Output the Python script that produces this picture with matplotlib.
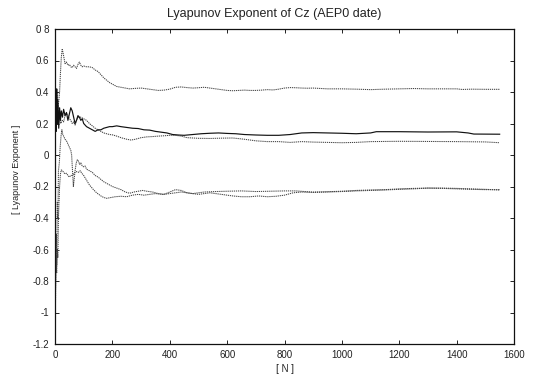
import matplotlib
matplotlib.use("Agg")
import matplotlib.pyplot as plt

plt.rcParams['font.family'] = ['Liberation Sans', 'DejaVu Sans']

title = "Lyapunov Exponent of Cz (AEP0 date)"
xlabel = "[ N ]"
ylabel = "[ Lyapunov Exponent ]"
xticks = [0, 200, 400, 600, 800, 1000, 1200, 1400, 1600]
yticks = [-1.2, -1, -0.8, -0.6, -0.4, -0.2, 0, 0.2, 0.4, 0.6, 0.8]
ytick_labels = ["-1.2", "-1", "-0.8", "-0.6", "-0.4", "-0.2", "0", "0.2", "0.4", "0.6", "0 8"]

# top series
top_n = [0, 2, 4, 6, 8, 10, 13, 16, 19, 22, 25, 28, 31, 35, 40, 45, 50, 55, 60, 65, 70, 75, 80,
         85, 90, 95, 100, 110, 120, 130, 140, 150, 160, 170, 180, 190, 200, 215, 230, 245, 260,
         280, 300, 320, 340, 360, 380, 400, 420, 440, 460, 480, 500, 520, 540, 560, 580, 600, 620,
         640, 660, 680, 700, 720, 740, 760, 780, 800, 820, 840, 860, 880, 900, 950, 1000, 1050,
         1100, 1150, 1200, 1250, 1300, 1350, 1400, 1420, 1450, 1500, 1550]
top_v = [0.30, 0.42, 0.36, 0.40, 0.32, 0.30, 0.34, 0.40, 0.52, 0.62, 0.67, 0.65, 0.62, 0.58, 0.59,
         0.57, 0.575, 0.56, 0.555, 0.57, 0.56, 0.55, 0.575, 0.59, 0.57, 0.56, 0.565, 0.56, 0.56,
         0.555, 0.54, 0.53, 0.51, 0.49, 0.475, 0.46, 0.45, 0.435, 0.43, 0.425, 0.42, 0.423, 0.425,
         0.42, 0.415, 0.41, 0.412, 0.418, 0.43, 0.432, 0.428, 0.425, 0.427, 0.43, 0.425, 0.42,
         0.415, 0.41, 0.408, 0.41, 0.412, 0.41, 0.41, 0.412, 0.415, 0.413, 0.418, 0.425, 0.428,
         0.427, 0.425, 0.424, 0.425, 0.42, 0.42, 0.418, 0.415, 0.418, 0.42, 0.422, 0.42, 0.42,
         0.42, 0.416, 0.418, 0.417, 0.417]

# solid middle series
mid_n = [0, 2, 4, 6, 8, 10, 13, 16, 19, 22, 26, 30, 35, 40, 45, 50, 55, 60, 65, 70, 75, 80, 85,
         90, 95, 100, 110, 120, 130, 140, 150, 160, 170, 180, 190, 200, 215, 230, 250, 270, 290,
         310, 330, 350, 370, 390, 410, 430, 450, 480, 510, 540, 570, 600, 630, 660, 700, 740, 780,
         820, 860, 900, 950, 1000, 1050, 1100, 1120, 1200, 1300, 1400, 1440, 1460, 1550]
mid_v = [0.05, 0.38, 0.15, 0.42, 0.20, 0.35, 0.17, 0.30, 0.22, 0.28, 0.24, 0.29, 0.25, 0.27, 0.22,
         0.26, 0.30, 0.28, 0.24, 0.20, 0.22, 0.25, 0.24, 0.22, 0.23, 0.20, 0.18, 0.17, 0.16, 0.15,
         0.16, 0.16, 0.17, 0.175, 0.18, 0.18, 0.185, 0.18, 0.175, 0.17, 0.168, 0.16, 0.158, 0.15,
         0.145, 0.14, 0.13, 0.127, 0.125, 0.13, 0.135, 0.138, 0.14, 0.137, 0.135, 0.13, 0.127,
         0.125, 0.125, 0.13, 0.14, 0.142, 0.14, 0.138, 0.135, 0.14, 0.148, 0.148, 0.146, 0.147,
         0.14, 0.133, 0.132]

# dotted middle series
dot_n = [0, 2, 4, 6, 8, 10, 13, 16, 20, 25, 30, 35, 40, 45, 50, 55, 60, 65, 70, 75, 80, 90, 100,
         110, 120, 130, 140, 150, 160, 170, 180, 190, 200, 215, 230, 250, 265, 280, 300, 320, 340,
         360, 380, 400, 420, 440, 460, 480, 500, 540, 580, 620, 660, 700, 740, 780, 820, 860, 900,
         950, 1000, 1050, 1100, 1200, 1300, 1400, 1500, 1550]
dot_v = [0.10, 0.30, 0.20, 0.38, 0.25, 0.32, 0.20, 0.26, 0.20, 0.22, 0.21, 0.25, 0.265, 0.25,
         0.23, 0.22, 0.20, 0.21, 0.19, 0.22, 0.24, 0.24, 0.23, 0.22, 0.20, 0.185, 0.17, 0.16, 0.15,
         0.14, 0.135, 0.13, 0.128, 0.12, 0.11, 0.10, 0.095, 0.10, 0.11, 0.115, 0.117, 0.12, 0.122,
         0.125, 0.125, 0.12, 0.11, 0.108, 0.106, 0.105, 0.107, 0.108, 0.10, 0.09, 0.085, 0.085,
         0.08, 0.085, 0.082, 0.08, 0.078, 0.08, 0.085, 0.087, 0.086, 0.085, 0.083, 0.078]

# lower series A
lowa_n = [0, 2, 4, 6, 8, 10, 12, 15, 18, 21, 24, 27, 30, 35, 40, 45, 50, 55, 58, 61, 64, 67, 70,
          74, 78, 82, 86, 90, 95, 100, 105, 110, 120, 130, 140, 150, 160, 170, 180, 190, 200, 215,
          230, 245, 260, 275, 290, 305, 320, 340, 360, 380, 400, 420, 440, 460, 480, 500, 520, 560,
          600, 650, 700, 750, 800, 840, 870, 900, 950, 1000, 1050, 1100, 1150, 1200, 1250, 1300,
          1350, 1400, 1450, 1500, 1550]
lowa_v = [-1.12, -0.90, -0.50, -0.70, -0.30, -0.40, -0.10, -0.05, 0.05, 0.12, 0.16, 0.13, 0.12,
          0.10, 0.09, 0.07, 0.05, 0.03, 0.00, -0.10, -0.20, -0.15, -0.10, -0.05, -0.03, -0.04,
          -0.06, -0.05, -0.07, -0.075, -0.07, -0.09, -0.10, -0.11, -0.13, -0.14, -0.155, -0.17,
          -0.18, -0.19, -0.20, -0.21, -0.22, -0.235, -0.243, -0.235, -0.23, -0.225, -0.23, -0.235,
          -0.245, -0.25, -0.235, -0.22, -0.225, -0.24, -0.245, -0.24, -0.235, -0.232, -0.23,
          -0.228, -0.232, -0.23, -0.228, -0.228, -0.232, -0.235, -0.233, -0.23, -0.225, -0.222,
          -0.22, -0.215, -0.212, -0.21, -0.212, -0.215, -0.218, -0.22, -0.22]

# lower series B
lowb_n = [0, 2, 4, 6, 8, 10, 12, 14, 16, 19, 22, 26, 30, 35, 40, 45, 50, 55, 60, 65, 70, 76, 82,
          88, 93, 100, 110, 120, 134, 145, 160, 170, 180, 195, 210, 230, 250, 270, 290, 310, 330,
          350, 377, 400, 420, 440, 460, 480, 500, 520, 540, 560, 580, 600, 620, 650, 680, 710, 740,
          770, 800, 830, 860, 900, 950, 1000, 1050, 1100, 1150, 1200, 1250, 1300, 1350, 1400, 1450,
          1500, 1550]
lowb_v = [-0.90, -0.85, -0.70, -0.75, -0.60, -0.65, -0.40, -0.30, -0.20, -0.12, -0.095, -0.10,
          -0.11, -0.12, -0.116, -0.13, -0.14, -0.13, -0.13, -0.12, -0.11, -0.105, -0.11, -0.10,
          -0.115, -0.13, -0.16, -0.19, -0.22, -0.24, -0.26, -0.27, -0.275, -0.27, -0.265, -0.262,
          -0.265, -0.255, -0.25, -0.255, -0.25, -0.245, -0.25, -0.245, -0.24, -0.235, -0.24,
          -0.245, -0.25, -0.245, -0.24, -0.245, -0.25, -0.255, -0.26, -0.265, -0.265, -0.26,
          -0.265, -0.262, -0.255, -0.24, -0.235, -0.238, -0.235, -0.232, -0.228, -0.225, -0.222,
          -0.218, -0.215, -0.21, -0.21, -0.212, -0.215, -0.218, -0.222]

fig = plt.figure(figsize=(5.37, 3.76), dpi=100)
ax = fig.add_axes([55/537, 1-344/376, (514-55)/537, (344-29)/376])

dotted = (0, (1.2, 0.8))
for n, v in [(top_n, top_v), (dot_n, dot_v), (lowa_n, lowa_v), (lowb_n, lowb_v)]:
    ax.plot(n, v, color='#444444', lw=0.75, ls=dotted)
ax.plot(mid_n, mid_v, color='#111111', lw=0.85, ls='-')

ax.set_xlim(0, 1600)
ax.set_ylim(-1.2, 0.8)
ax.set_xticks(xticks)
ax.set_xticklabels([str(t) for t in xticks])
ax.set_yticks(yticks)
ax.set_yticklabels(ytick_labels)
ax.tick_params(direction='in', length=3, width=0.7, labelsize=7, colors='#222222',
               top=True, right=True, pad=4)
for s in ax.spines.values():
    s.set_linewidth(0.9)
    s.set_color('#111111')

ax.set_title(title, fontsize=9, color='#222222', x=(274-55)/459, y=1.0, pad=9)
ax.set_xlabel(xlabel, fontsize=7, color='#222222', labelpad=3)
ax.set_ylabel(ylabel, fontsize=6.5, color='#222222')
ax.yaxis.set_label_coords((21-55)/459, (344-169)/315)

fig.savefig("out.png", dpi=100, facecolor='white')
